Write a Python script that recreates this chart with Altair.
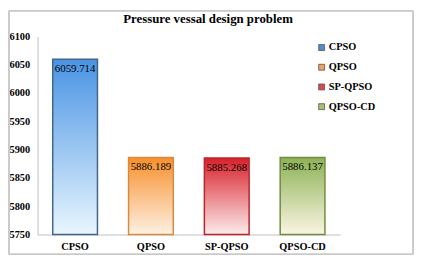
import altair as alt
import pandas as pd

methods = ["CPSO", "QPSO", "SP-QPSO", "QPSO-CD"]
values = [6059.714, 5886.189, 5885.268, 5886.137]
labels = ["6059.714", "5886.189", "5885.268", "5886.137"]
top_colors = ["#4a94e4", "#f7902c", "#d8202a", "#8cb256"]
bottom_colors = ["#e8f6fe", "#fdf1e4", "#fcecec", "#fbf5e2"]
stroke_colors = ["#44658a", "#d88a3e", "#b8262a", "#6f8d40"]
legend_colors = ["#4a8fd0", "#f2a060", "#d84a50", "#a8c070"]
y_ticks = [5750, 5800, 5850, 5900, 5950, 6000, 6050, 6100]
title_text = "Pressure vessal design problem"

df = pd.DataFrame({"method": methods, "value": values, "label": labels})

W, H = 307, 201
FONT = "Liberation Serif, Times New Roman, serif"

x_enc = alt.X("method:N", sort=methods, title=None,
              scale=alt.Scale(paddingInner=0.41, paddingOuter=0.2),
              axis=alt.Axis(labelAngle=0, labelFont=FONT, labelFontWeight="bold",
                            labelFontSize=10.5, labelColor="black", ticks=False,
                            domainColor="#bfbfbf", labelPadding=7))
y_enc = alt.Y("value:Q", title=None,
              scale=alt.Scale(domain=[5750, 6100], nice=False, zero=False),
              axis=alt.Axis(values=y_ticks, tickCount=20, grid=False, ticks=False,
                            labelFont=FONT, labelFontWeight="bold", labelFontSize=10.5,
                            labelColor="black", domainColor="#bfbfbf", labelPadding=8,
                            format="d", labelOverlap=False))

layers = []
for i, m in enumerate(methods):
    grad = alt.Gradient(gradient="linear", x1=0, x2=0, y1=0, y2=1,
                        stops=[alt.GradientStop(color=top_colors[i], offset=0),
                               alt.GradientStop(color=bottom_colors[i], offset=1)])
    layers.append(
        alt.Chart(df).transform_filter(alt.datum.method == m)
        .mark_bar(color=grad, stroke=stroke_colors[i], strokeWidth=1.5)
        .encode(x=x_enc, y=y_enc, y2=alt.datum(5750))
    )

text = alt.Chart(df).mark_text(font=FONT, fontSize=11, baseline="top", dy=4,
                               color="black").encode(
    x=alt.X("method:N", sort=methods), y="value:Q", text="label:N")

legend_layer = alt.Chart(df).mark_point(shape="square", filled=True, opacity=0).encode(
    x=alt.X("method:N", sort=methods), y="value:Q",
    color=alt.Color("method:N", sort=methods,
                    scale=alt.Scale(domain=methods, range=legend_colors),
                    legend=alt.Legend(title=None, orient="none", legendX=283, legendY=6,
                                      symbolType="square", symbolSize=36, symbolOpacity=1,
                                      symbolStrokeColor="#555555", symbolStrokeWidth=0.8,
                                      labelFont=FONT, labelFontWeight="bold",
                                      labelFontSize=10.5, labelColor="black",
                                      rowPadding=9, symbolOffset=0, labelOffset=2)))

title = alt.Chart(pd.DataFrame({"t": [title_text]})).mark_text(
    font=FONT, fontSize=13, fontWeight="bold", color="black", baseline="middle",
    align="center").encode(x=alt.value(173), y=alt.value(-18), text="t:N")

border = alt.Chart(df).mark_rect(fill=None, stroke="#c8c8c8", strokeWidth=1).encode(
    x=alt.value(-29), x2=alt.value(381), y=alt.value(-26), y2=alt.value(221))

chart = alt.layer(*layers, text, legend_layer, title, border).properties(
    width=W, height=H,
    autosize=alt.AutoSizeParams(type="none"),
    padding={"left": 30, "top": 27, "right": 76, "bottom": 25},
    background="white",
).configure_view(stroke=None)

chart.save("out.html", embed_options={"renderer": "svg", "actions": False})
